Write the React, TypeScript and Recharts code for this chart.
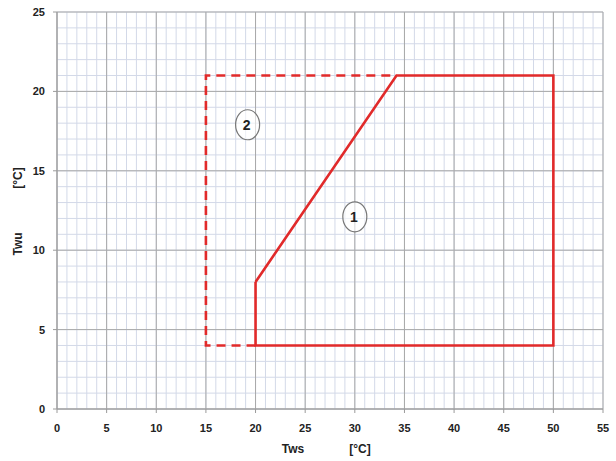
import React from 'react';
import {
  LineChart,
  Line,
  XAxis,
  YAxis,
  CartesianGrid,
  ReferenceDot,
} from 'recharts';

// axis ticks
const xTicks = [0, 5, 10, 15, 20, 25, 30, 35, 40, 45, 50, 55];
const yTicks = [0, 5, 10, 15, 20, 25];
// fine graph-paper grid, 1 °C steps
const xMinor = [
  0, 1, 2, 3, 4, 5, 6, 7, 8, 9, 10, 11, 12, 13, 14, 15, 16, 17, 18, 19, 20, 21, 22, 23, 24, 25, 26, 27,
  28, 29, 30, 31, 32, 33, 34, 35, 36, 37, 38, 39, 40, 41, 42, 43, 44, 45, 46, 47, 48, 49, 50, 51, 52, 53, 54, 55,
];
const yMinor = [0, 1, 2, 3, 4, 5, 6, 7, 8, 9, 10, 11, 12, 13, 14, 15, 16, 17, 18, 19, 20, 21, 22, 23, 24, 25];

// zone 1 boundary (solid)
const zone1X = [20, 34.2, 50, 50, 20, 20];
const zone1Y = [8, 21, 21, 4, 4, 8];
// zone 2 extension (dashed)
const zone2X = [20, 15, 15, 34.2];
const zone2Y = [4, 4, 21, 21];

// circled zone markers
const markerText = ['1', '2'];
const markerX = [30, 19.2];
const markerY = [12.1, 17.9];

const zone1 = zone1X.map((x, i) => ({ x, y: zone1Y[i] }));
const zone2 = zone2X.map((x, i) => ({ x, y: zone2Y[i] }));

const RED = '#e12a2a';
const FONT = '"Liberation Sans", Arial, sans-serif';

const tickStyle = { fill: '#222', fontSize: 11, fontWeight: 700, fontFamily: FONT };

const XLabel = ({ viewBox }: any) => {
  const cx = viewBox.x + viewBox.width / 2;
  return (
    <g style={{ fontFamily: FONT, fontSize: 12, fontWeight: 700 }} fill="#222">
      <text x={cx - 37} y={453} textAnchor="middle">Tws</text>
      <text x={cx + 30} y={453} textAnchor="middle">[°C]</text>
    </g>
  );
};

const YLabel = () => (
  <g style={{ fontFamily: FONT, fontSize: 12, fontWeight: 700 }} fill="#222">
    <text x={22} y={244} textAnchor="middle" transform="rotate(-90 22 244)">Twu</text>
    <text x={22} y={178} textAnchor="middle" transform="rotate(-90 22 178)">[°C]</text>
  </g>
);

const Marker = ({ cx, cy, text }: any) => (
  <g>
    <ellipse cx={cx} cy={cy} rx={12} ry={15} fill="#fff" fillOpacity={0.6} stroke="#777" strokeWidth={1.2} />
    <text
      x={cx - 1}
      y={cy + 5}
      textAnchor="middle"
      style={{ fontFamily: FONT, fontSize: 14, fontWeight: 700 }}
      fill="#222"
    >
      {text}
    </text>
  </g>
);

export default function App() {
  return (
    <div style={{ position: 'absolute', left: 0, top: 0, background: '#fff' }}>
      <LineChart width={616} height={461} margin={{ top: 12, right: 13, bottom: 0, left: 0 }}>
        <CartesianGrid verticalValues={xMinor} horizontalValues={yMinor} stroke="#d3d9e8" strokeWidth={1} />
        <CartesianGrid verticalValues={xTicks} horizontalValues={yTicks} stroke="#a9a9a9" strokeWidth={1} fill="none" />
        <XAxis
          type="number"
          dataKey="x"
          domain={[0, 55]}
          ticks={xTicks}
          interval={0}
          stroke="#9a9a9a"
          tickSize={4}
          tickMargin={11}
          height={52}
          tick={tickStyle}
          label={<XLabel />}
        />
        <YAxis
          type="number"
          dataKey="y"
          domain={[0, 25]}
          ticks={yTicks}
          interval={0}
          stroke="#9a9a9a"
          tickSize={4}
          tickMargin={8}
          width={57}
          tick={tickStyle}
          label={<YLabel />}
        />
        <Line
          data={zone2}
          dataKey="y"
          type="linear"
          stroke={RED}
          strokeWidth={2.6}
          strokeDasharray="9 6"
          dot={false}
          isAnimationActive={false}
        />
        <Line
          data={zone1}
          dataKey="y"
          type="linear"
          stroke={RED}
          strokeWidth={2.6}
          dot={false}
          isAnimationActive={false}
        />
        {markerText.map((t, i) => (
          <ReferenceDot
            key={t}
            x={markerX[i]}
            y={markerY[i]}
            r={12}
            shape={(p: any) => <Marker cx={p.cx} cy={p.cy} text={t} />}
          />
        ))}
      </LineChart>
    </div>
  );
}
